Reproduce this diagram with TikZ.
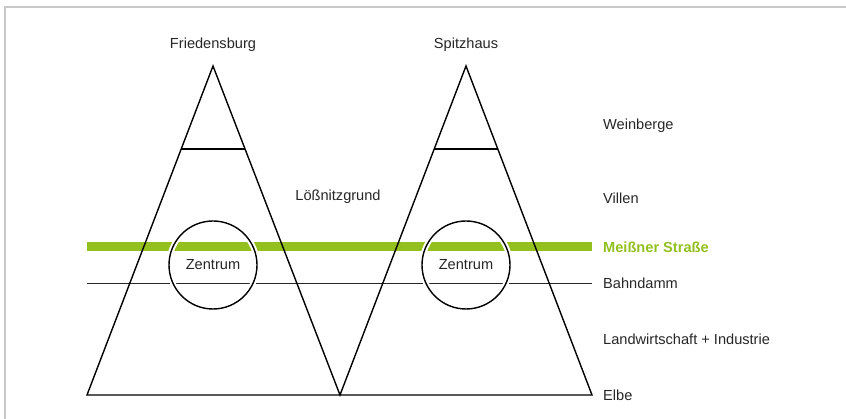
\documentclass[tikz,border=0pt]{standalone}
\usepackage{fontspec}
\setmainfont{Liberation Sans}
\usetikzlibrary{calc}
\definecolor{mgreen}{RGB}{147,192,31}
\definecolor{framegray}{RGB}{200,200,200}
\begin{document}
\begin{tikzpicture}[x=1pt,y=-1pt,
  lbl/.style={font=\fontsize{14.6}{17}\selectfont, text=black!85, inner sep=0pt},
  rlbl/.style={lbl, anchor=west},
  hill/.style={line width=1.4pt, line join=miter},
  rule/.style={line width=1.5pt, black!85},
  road/.style={line width=9pt, mgreen},
  zentrum/.style={circle, minimum size=88pt, inner sep=0pt},
  halo/.style={line width=5.5pt, white},
  ring/.style={line width=1.4pt}
]
\useasboundingbox (0,0) rectangle (846,419);
% frame
\draw[framegray, line width=2pt] (846,7.5) -- (5,7.5) -- (5,419);

% key coordinates
\coordinate (a1) at (213,66);
\coordinate (a2) at (466,66);
\coordinate (bl) at (87,395);
\coordinate (bm) at (340,395);
\coordinate (br) at (592,395);

% Meissner Strasse and Bahndamm
\coordinate (rs) at (87,247);
\coordinate (re) at (592,247);
\coordinate (ds) at (87,283.5);
\coordinate (de) at (592,283.5);
\draw[road] (rs) -- (re);
\draw[rule] (ds) -- (de);

% Zentrum circles
\node[zentrum] (z1) at (213,265) {};
\node[zentrum] (z2) at (466,265) {};
\foreach \z in {z1,z2}{
  \draw[halo] (\z.center) circle (44pt);
  \draw[ring] (\z.center) circle (44pt);
}
\node[lbl] at (z1.center) {Zentrum};
\node[lbl] at (z2.center) {Zentrum};

% hills
\draw[hill] (bl) -- (a1) -- (bm) -- (a2) -- (br) -- cycle;
% Weinberge lines
\draw[hill] ($(a1)!0.2523!(bl)$) -- ($(a1)!0.2523!(bm)$);
\draw[hill] ($(a2)!0.2523!(bm)$) -- ($(a2)!0.2523!(br)$);

% labels
\node[lbl] (fr) at (213,45) {Friedensburg};
\node[lbl] (sp) at (466,45) {Spitzhaus};
\node[lbl] (lg) at (338,197) {Lößnitzgrund};
\node[rlbl] (wb) at (603,126) {Weinberge};
\node[rlbl] (vi) at (603,198) {Villen};
\node[rlbl, text=mgreen, font=\fontsize{14.6}{17}\selectfont\bfseries] (ms) at (603,247) {Meißner Straße};
\node[rlbl] (bd) at (603,283.5) {Bahndamm};
\node[rlbl] (li) at (603,339) {Landwirtschaft + Industrie};
\node[rlbl] (el) at (603,395) {Elbe};
\end{tikzpicture}
\end{document}
